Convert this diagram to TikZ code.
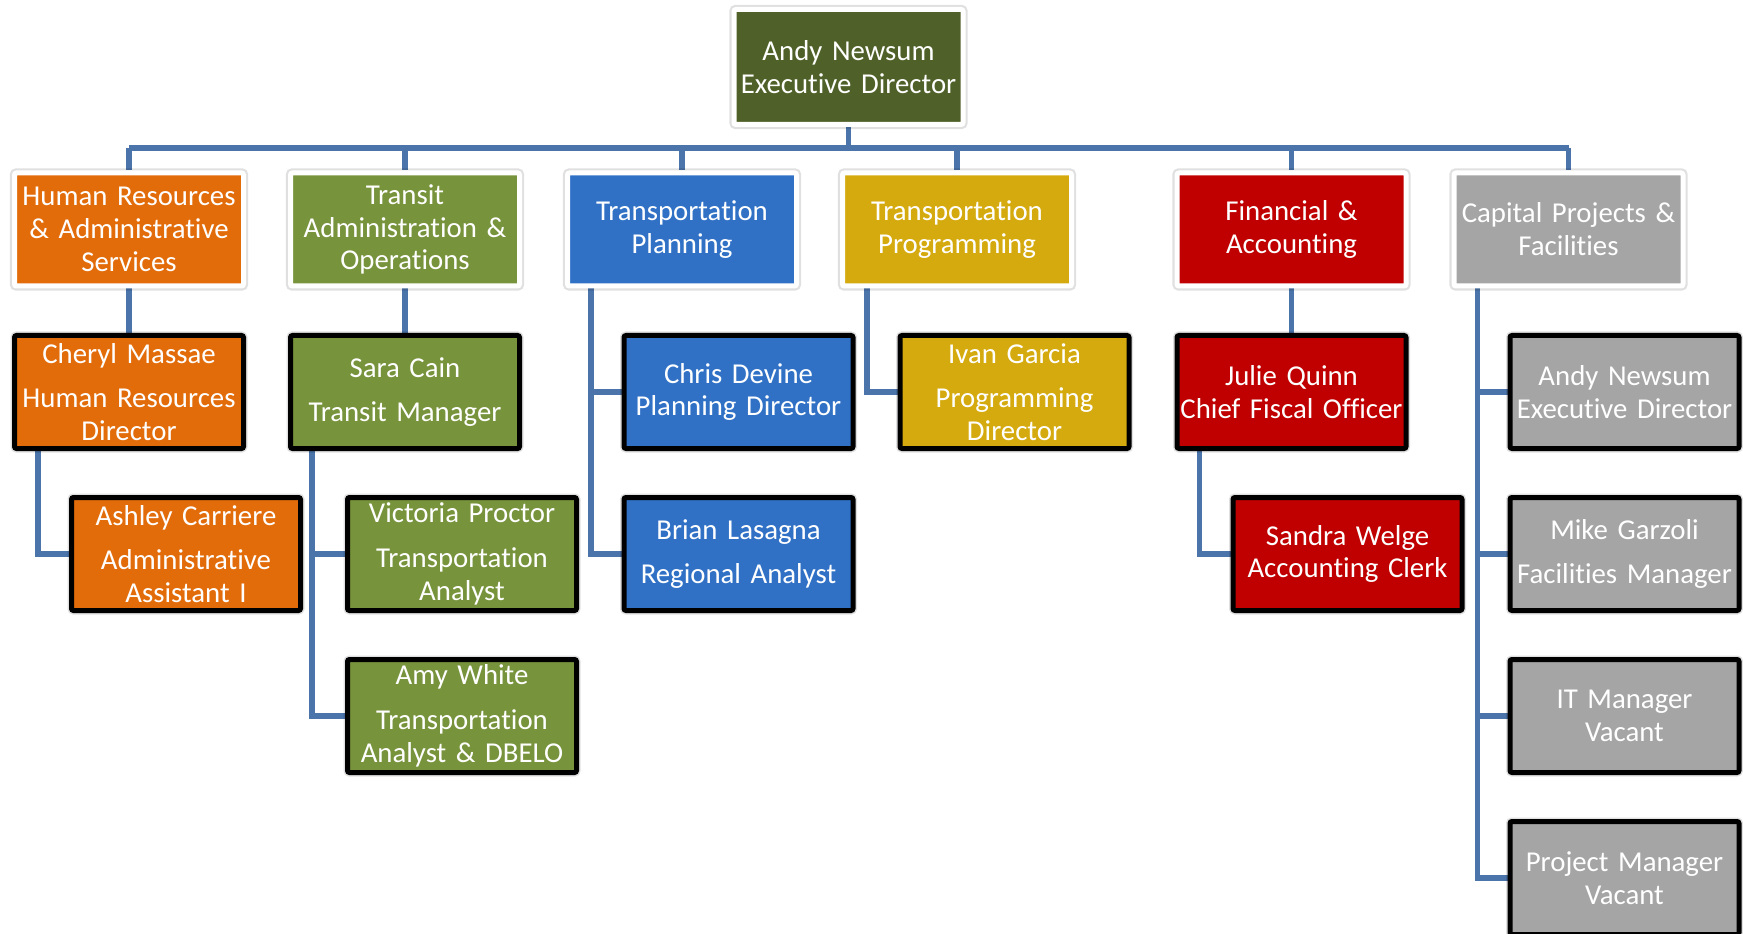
\documentclass[tikz,border=0pt]{standalone}
\usepackage{fontspec}
\setmainfont{Carlito}[Ligatures=NoCommon]
\usetikzlibrary{calc,backgrounds}
\definecolor{cTop}{RGB}{79,97,40}
\definecolor{cHR}{RGB}{227,108,10}
\definecolor{cTr}{RGB}{119,147,60}
\definecolor{cPl}{RGB}{48,113,198}
\definecolor{cPr}{RGB}{213,170,14}
\definecolor{cFi}{RGB}{192,0,0}
\definecolor{cCa}{RGB}{165,165,165}
\definecolor{linkblue}{RGB}{74,116,170}
\tikzset{
  box/.style={rectangle, rounded corners=1.5pt, minimum width=171.75pt, minimum height=84.75pt,
    inner sep=0pt, text width=171pt, align=center, text=white,
    font=\fontsize{21.6}{24.6}\selectfont},
  dept/.style={box, draw=white, line width=3.75pt,
    preaction={draw=black, draw opacity=0.12, line width=7pt}},
  staff/.style={box, draw=black, line width=3.75pt,
    preaction={draw=black, draw opacity=0.12, line width=6pt}},
  link/.style={draw=linkblue, line width=4.2pt},
}
\begin{document}
\begin{tikzpicture}[x=0.75pt,y=-0.75pt]
\useasboundingbox (0,0) rectangle (1743,934);

% top
\node[dept, fill=cTop, minimum height=86.25pt] (top) at (848.5,67) {Andy Newsum\\Executive Director};

% departments
\node[dept, fill=cHR] (hr) at (129,229.5) {Human Resources\\\& Administrative\\Services};
\node[dept, fill=cTr] (tr) at (405,229.5) {Transit\\Administration \&\\Operations};
\node[dept, fill=cPl] (pl) at (682,229.5) {Transportation\\Planning};
\node[dept, fill=cPr] (pr) at (957,229.5) {Transportation\\Programming};
\node[dept, fill=cFi] (fi) at (1291.5,229.5) {Financial \&\\Accounting};
\node[dept, fill=cCa] (ca) at (1568.5,229.5) {Capital Projects \&\\Facilities};

% managers
\node[staff, fill=cHR] (cheryl) at (129,392) {Cheryl Massae\\[9pt]Human Resources\\Director};
\node[staff, fill=cTr] (sara) at (405,392) {Sara Cain\\[9pt]Transit Manager};
\node[staff, fill=cPl] (chris) at (738.5,392) {Chris Devine\\Planning Director};
\node[staff, fill=cPr] (ivan) at (1014.5,392) {Ivan Garcia\\[9pt]Programming\\Director};
\node[staff, fill=cFi] (julie) at (1291.5,392) {Julie Quinn\\Chief Fiscal Officer};
\node[staff, fill=cCa] (andy) at (1624.5,392) {Andy Newsum\\Executive Director};

% third row
\node[staff, fill=cHR] (ashley) at (186,554) {Ashley Carriere\\[9pt]Administrative\\Assistant I};
\node[staff, fill=cTr] (victoria) at (462,554) {Victoria Proctor\\[9pt]Transportation\\Analyst};
\node[staff, fill=cPl] (brian) at (738.5,554) {Brian Lasagna\\[9pt]Regional Analyst};
\node[staff, fill=cFi] (sandra) at (1347.5,554) {Sandra Welge\\Accounting Clerk};
\node[staff, fill=cCa] (mike) at (1624.5,554) {Mike Garzoli\\[9pt]Facilities Manager};

% fourth row
\node[staff, fill=cTr] (amy) at (462,716) {Amy White\\[9pt]Transportation\\Analyst \& DBELO};
\node[staff, fill=cCa] (it) at (1624.5,716) {IT Manager\\Vacant};

% fifth row
\node[staff, fill=cCa] (pm) at (1624.5,878) {Project Manager\\Vacant};

\coordinate (bus) at (848.5,148);

\begin{scope}[on background layer]
  \fill[white] (0,0) rectangle (1743,934);
  \draw[link] (top.south) -- (bus);
  \draw[link] (bus -| hr) -- (bus -| ca);
  \foreach \d in {hr,tr,pl,pr,fi,ca} {
    \draw[link] (bus -| \d) -- (\d.north);
  }
  \draw[link] (hr.south) -- (cheryl.north);
  \draw[link] (tr.south) -- (sara.north);
  \draw[link] (fi.south) -- (julie.north);
  % Cheryl -> Ashley
  \draw[link] ($(cheryl.south west)+(26,0)$) |- (ashley.west);
  % Sara -> Victoria, Amy
  \draw[link] ($(sara.south west)+(24,0)$) |- (amy.west);
  \draw[link] ($(sara.south west)+(24,0)$) |- (victoria.west);
  % Planning -> Chris, Brian
  \draw[link] ($(pl.south west)+(26,0)$) |- (brian.west);
  \draw[link] ($(pl.south west)+(26,0)$) |- (chris.west);
  % Programming -> Ivan
  \draw[link] ($(pr.south west)+(27,0)$) |- (ivan.west);
  % Julie -> Sandra
  \draw[link] ($(julie.south west)+(25,0)$) |- (sandra.west);
  % Capital -> four
  \draw[link] ($(ca.south west)+(26,0)$) |- (pm.west);
  \draw[link] ($(ca.south west)+(26,0)$) |- (it.west);
  \draw[link] ($(ca.south west)+(26,0)$) |- (mike.west);
  \draw[link] ($(ca.south west)+(26,0)$) |- (andy.west);
\end{scope}
\end{tikzpicture}
\end{document}
